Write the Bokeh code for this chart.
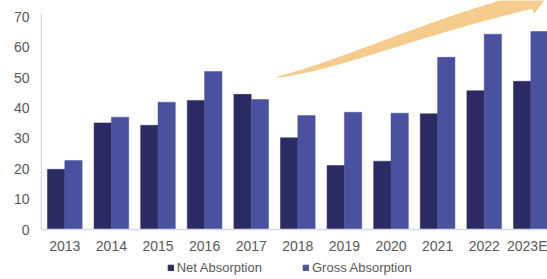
import numpy as np
from bokeh.plotting import figure
from bokeh.layouts import column
from bokeh.models import Range1d, FixedTicker, Legend, LegendItem
from bokeh.embed import file_html
from bokeh.resources import INLINE

# ---- data ----
years = ["2013", "2014", "2015", "2016", "2017", "2018", "2019", "2020", "2021", "2022", "2023E"]
net_absorption = [19.8, 35.1, 34.3, 42.5, 44.5, 30.2, 21.1, 22.5, 38.1, 45.7, 48.8]
gross_absorption = [22.7, 37.0, 41.9, 52.0, 42.8, 37.5, 38.6, 38.3, 56.7, 64.3, 65.2]
y_ticks = [0, 10, 20, 30, 40, 50, 60, 70]
series_names = ["Net Absorption", "Gross Absorption"]

# decorative growth arrow: cubic control points in data units (category index, value)
arrow_ctrl = [(4.56, 50.2), (5.92, 54.1), (7.63, 66.2), (9.99, 75.4)]

NET_COLOR = "#2B2A63"
GROSS_COLOR = "#4A52A0"
TEXT_COLOR = "#595959"
AXIS_COLOR = "#D9D9E3"
ARROW_COLOR = "#F6CB8E"

x_idx = list(range(len(years)))
X0, X1 = -0.5215, 10.358
Y_AXIS_TOP = 71.1

p = figure(width=547, height=256, output_backend="svg", toolbar_location=None,
           x_range=Range1d(X0, X1), y_range=Range1d(0, 75.41),
           min_border_left=40, min_border_right=0, min_border_top=0, min_border_bottom=26)
p.outline_line_color = None
p.xgrid.visible = False
p.ygrid.visible = False
p.background_fill_color = "white"

# ---- arrow (behind bars) ----
px_per_x, px_per_y = 46.6, 3.05
P = np.array(arrow_ctrl)
t = np.linspace(0, 1, 60)
B = ((1 - t) ** 3)[:, None] * P[0] + (3 * (1 - t) ** 2 * t)[:, None] * P[1] \
    + (3 * (1 - t) * t ** 2)[:, None] * P[2] + (t ** 3)[:, None] * P[3]
D = (3 * (1 - t) ** 2)[:, None] * (P[1] - P[0]) + (6 * (1 - t) * t)[:, None] * (P[2] - P[1]) \
    + (3 * t ** 2)[:, None] * (P[3] - P[2])
Bs = B * np.array([px_per_x, px_per_y])
Ds = D * np.array([px_per_x, px_per_y])
Ds = Ds / np.linalg.norm(Ds, axis=1)[:, None]
N = np.stack([-Ds[:, 1], Ds[:, 0]], axis=1)
w = 1 + 16 * t ** 0.8
upper = Bs + N * (w / 2)[:, None]
lower = Bs - N * (w / 2)[:, None]
end, dirv, nrm = Bs[-1], Ds[-1], N[-1]
tip = end + 18 * dirv
barb_up = end + 14 * nrm
barb_lo = end - 14 * nrm
poly = np.vstack([lower, barb_lo[None], tip[None], barb_up[None], upper[::-1]])
poly = poly / np.array([px_per_x, px_per_y])
p.patch(poly[:, 0], poly[:, 1], fill_color=ARROW_COLOR, line_color=None)

# ---- bars ----
p.vbar(x=[i - 0.186 for i in x_idx], top=net_absorption, width=0.372,
       fill_color=NET_COLOR, line_color=NET_COLOR, line_width=0.5)
p.vbar(x=[i + 0.186 for i in x_idx], top=gross_absorption, width=0.372,
       fill_color=GROSS_COLOR, line_color=GROSS_COLOR, line_width=0.5)

# y axis line (stops just above the 70 tick, as in the reference)
p.segment(x0=[X0 + 0.75 / px_per_x], y0=[0], x1=[X0 + 0.75 / px_per_x], y1=[Y_AXIS_TOP],
          line_color=AXIS_COLOR, line_width=1.5)

# ---- axes ----
p.xaxis.ticker = FixedTicker(ticks=x_idx)
p.xaxis.major_label_overrides = {i: y for i, y in zip(x_idx, years)}
p.yaxis.ticker = FixedTicker(ticks=y_ticks)
for ax in (p.xaxis, p.yaxis):
    ax.axis_line_color = AXIS_COLOR
    ax.axis_line_width = 1.5
    ax.major_tick_line_color = None
    ax.minor_tick_line_color = None
    ax.major_tick_out = 0
    ax.major_tick_in = 0
    ax.major_label_text_color = TEXT_COLOR
    ax.major_label_text_font = "Liberation Sans"
    ax.major_label_text_font_size = "14px"
p.yaxis.axis_line_color = None
p.xaxis.major_label_standoff = 8
p.yaxis.major_label_standoff = 11

# ---- legend strip (separate small figure under the chart) ----
lg = figure(width=547, height=23, output_backend="svg", toolbar_location=None,
            x_range=Range1d(0, 1), y_range=Range1d(0, 1),
            min_border_left=0, min_border_right=0, min_border_top=0, min_border_bottom=0)
lg.axis.visible = False
lg.grid.visible = False
lg.outline_line_color = None
# zero-height proxy bars, only used to draw the legend swatches
r1 = lg.vbar(x=[-1], top=[0], width=0.1, fill_color=NET_COLOR, line_color=NET_COLOR)
r2 = lg.vbar(x=[-1], top=[0], width=0.1, fill_color=GROSS_COLOR, line_color=GROSS_COLOR)
legend = Legend(items=[LegendItem(label=series_names[0], renderers=[r1]),
                       LegendItem(label=series_names[1], renderers=[r2])],
                orientation="horizontal", location=(126.7, 4),
                glyph_width=7, glyph_height=7, label_height=14, label_standoff=3,
                spacing=40, padding=0, margin=0,
                label_text_font="Liberation Sans", label_text_font_size="13px",
                label_text_color=TEXT_COLOR, border_line_color=None,
                background_fill_alpha=0)
lg.add_layout(legend, "center")

layout = column(p, lg, spacing=0)
open("out.html", "w").write(file_html(layout, INLINE))
